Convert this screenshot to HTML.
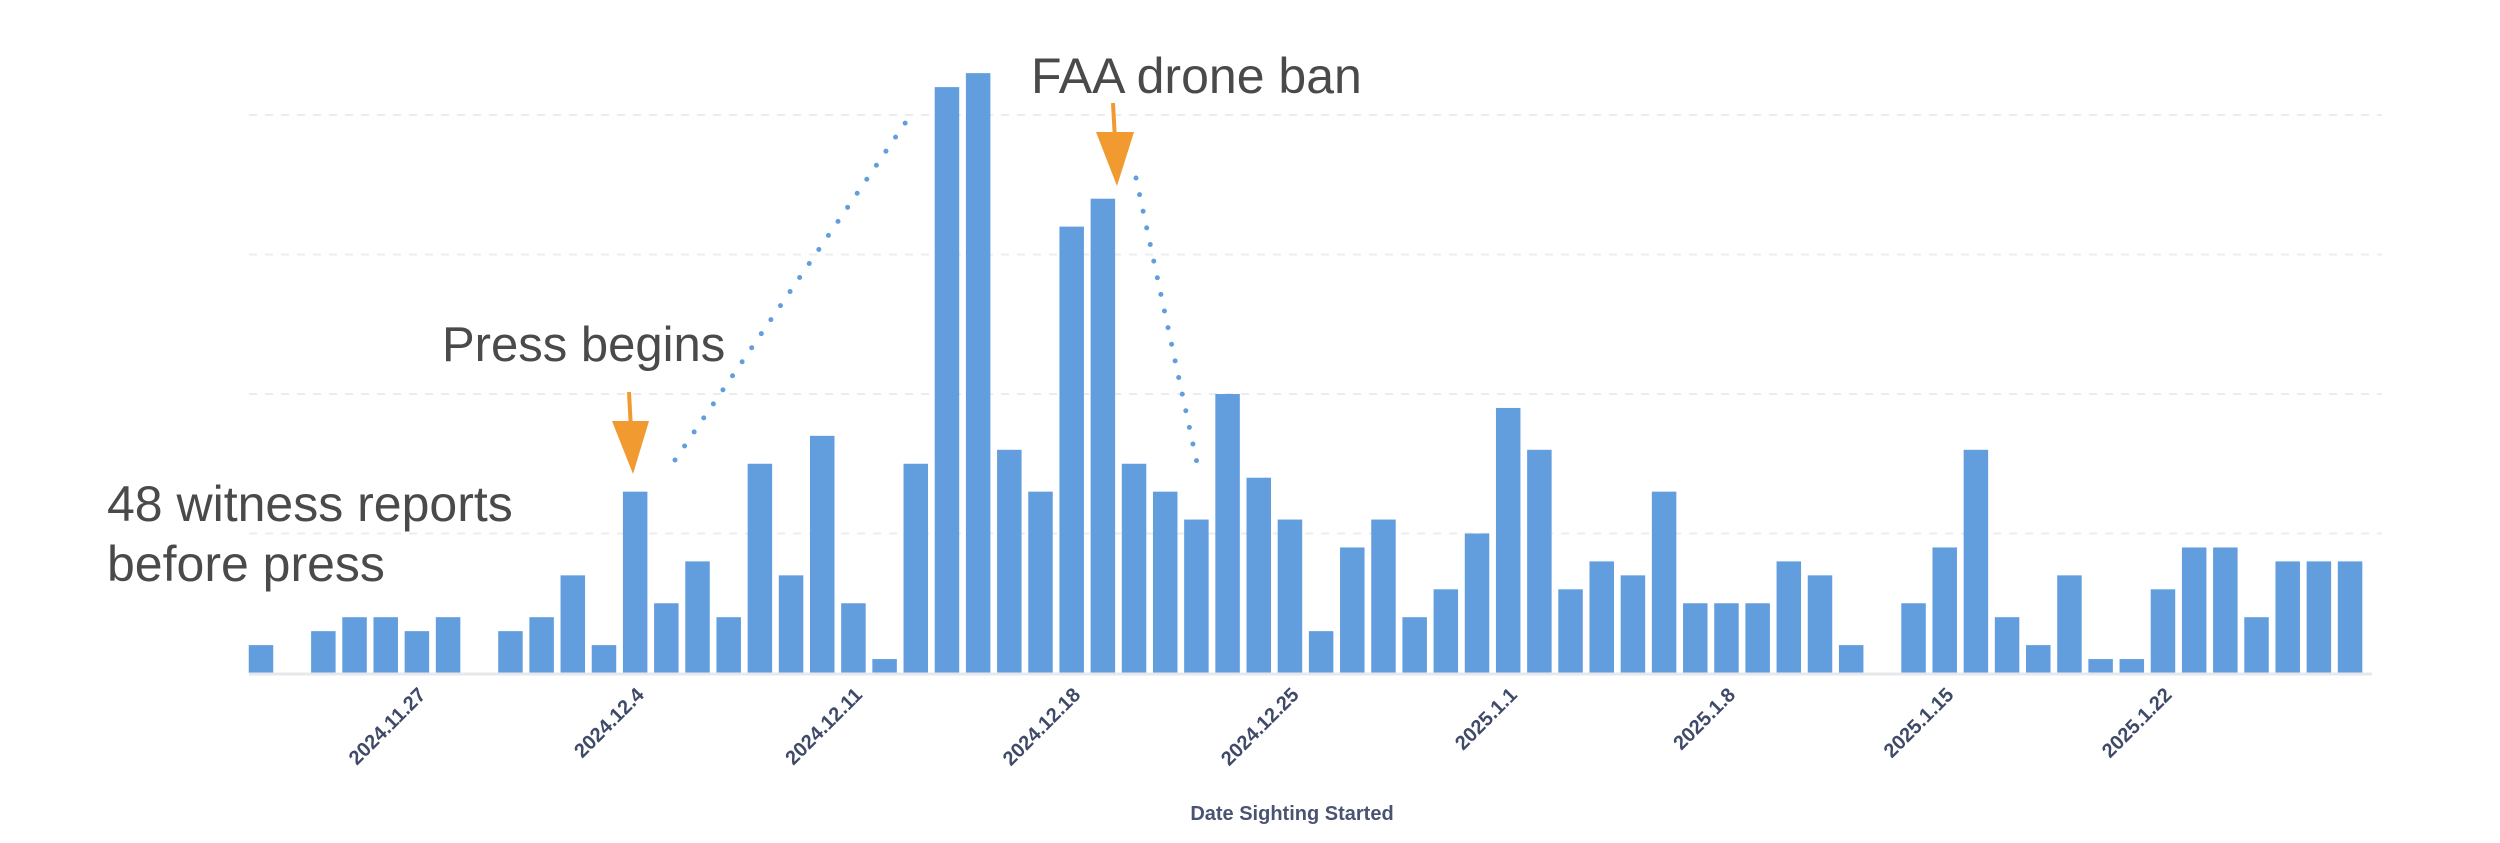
<!DOCTYPE html>
<html><head><meta charset="utf-8">
<style>
html,body{margin:0;padding:0;background:#fff;}
svg{display:block;}
</style></head>
<body>
<svg id="chart" width="2500" height="843" viewBox="0 0 2500 843" xmlns="http://www.w3.org/2000/svg">
  <g id="grid"></g>
  <g id="bars"></g>
  <line x1="249" y1="674" x2="2372" y2="674" stroke="#e6e8ec" stroke-width="3"/>
  <g id="ticks"></g>
  <text x="1292" y="820" text-anchor="middle" font-family="Liberation Sans, sans-serif" font-weight="bold" font-size="20" fill="#4a5472">Date Sighting Started</text>

  <text x="1031" y="93" font-family="Liberation Sans, sans-serif" font-size="50" fill="#4a4a4a">FAA drone ban</text>
  <text x="442" y="361" font-family="Liberation Sans, sans-serif" font-size="49" fill="#4a4a4a">Press begins</text>
  <text font-family="Liberation Sans, sans-serif" font-size="50" fill="#4a4a4a">
    <tspan x="107" y="521">48 witness reports</tspan>
    <tspan x="107" y="581">before press</tspan>
  </text>

  <g>
    <line x1="629" y1="392" x2="631" y2="430" stroke="#f09a30" stroke-width="4"/>
    <polygon points="612,421 649,421 633,474" fill="#f09a30"/>
  </g>
  <g>
    <line x1="1113" y1="103" x2="1115" y2="140" stroke="#f09a30" stroke-width="4"/>
    <polygon points="1096,132 1134,132 1117,186" fill="#f09a30"/>
  </g>
  <line x1="675" y1="460" x2="910" y2="116" stroke="#629ede" stroke-width="5" stroke-linecap="round" stroke-dasharray="0 17"/>
  <line x1="1136" y1="178" x2="1200" y2="477" stroke="#629ede" stroke-width="5" stroke-linecap="round" stroke-dasharray="0 17"/>
</svg>
<script>
const values = [2,0,3,4,4,3,4,0,3,4,7,2,13,5,8,4,15,7,17,5,1,15,42,43,16,13,32,34,15,13,11,20,14,11,3,9,11,4,6,10,19,16,6,8,7,13,5,5,5,8,7,2,0,5,9,16,4,2,7,1,1,6,9,9,4,8,8,8];
const tickLabels = ["2024.11.27","2024.12.4","2024.12.11","2024.12.18","2024.12.25","2025.1.1","2025.1.8","2025.1.15","2025.1.22"];
const tickIndex = [5,12,19,26,33,40,47,54,61];
const gridValues = [10,20,30,40];

const NS = "http://www.w3.org/2000/svg";
const baseY = 673, unit = 13.95, x0 = 261, pitch = 31.18, bw = 24.5;
const xScale = i => x0 + i * pitch;
const yScale = v => baseY - v * unit;

const grid = document.getElementById('grid');
gridValues.forEach(g => {
  const l = document.createElementNS(NS, 'line');
  
  
  l.setAttribute('x1', 249); l.setAttribute('x2', 2382);
  l.setAttribute('y1', yScale(g)); l.setAttribute('y2', yScale(g));
  l.setAttribute('stroke', '#ececec'); l.setAttribute('stroke-width', 2);
  l.setAttribute('stroke-dasharray', '8 8');
  grid.appendChild(l);
});

const bars = document.getElementById('bars');
values.forEach((v, i) => {
  if (v <= 0) return;
  const r = document.createElementNS(NS, 'rect');
  
  
  r.setAttribute('x', xScale(i) - bw / 2);
  r.setAttribute('y', yScale(v));
  r.setAttribute('width', bw);
  r.setAttribute('height', v * unit);
  r.setAttribute('fill', '#629ede');
  bars.appendChild(r);
});

const ticks = document.getElementById('ticks');
tickLabels.forEach((t, k) => {
  const x = xScale(tickIndex[k]) + 10, y = 696;
  const tx = document.createElementNS(NS, 'text');
  
  
  tx.setAttribute('x', x); tx.setAttribute('y', y);
  tx.setAttribute('text-anchor', 'end');
  tx.setAttribute('font-family', 'Liberation Sans, sans-serif');
  tx.setAttribute('font-weight', 'bold');
  tx.setAttribute('font-size', '20');
  tx.setAttribute('fill', '#3f4a68');
  tx.setAttribute('transform', `rotate(-45 ${x} ${y})`);
  tx.textContent = t;
  ticks.appendChild(tx);
});
</script>
</body></html>
